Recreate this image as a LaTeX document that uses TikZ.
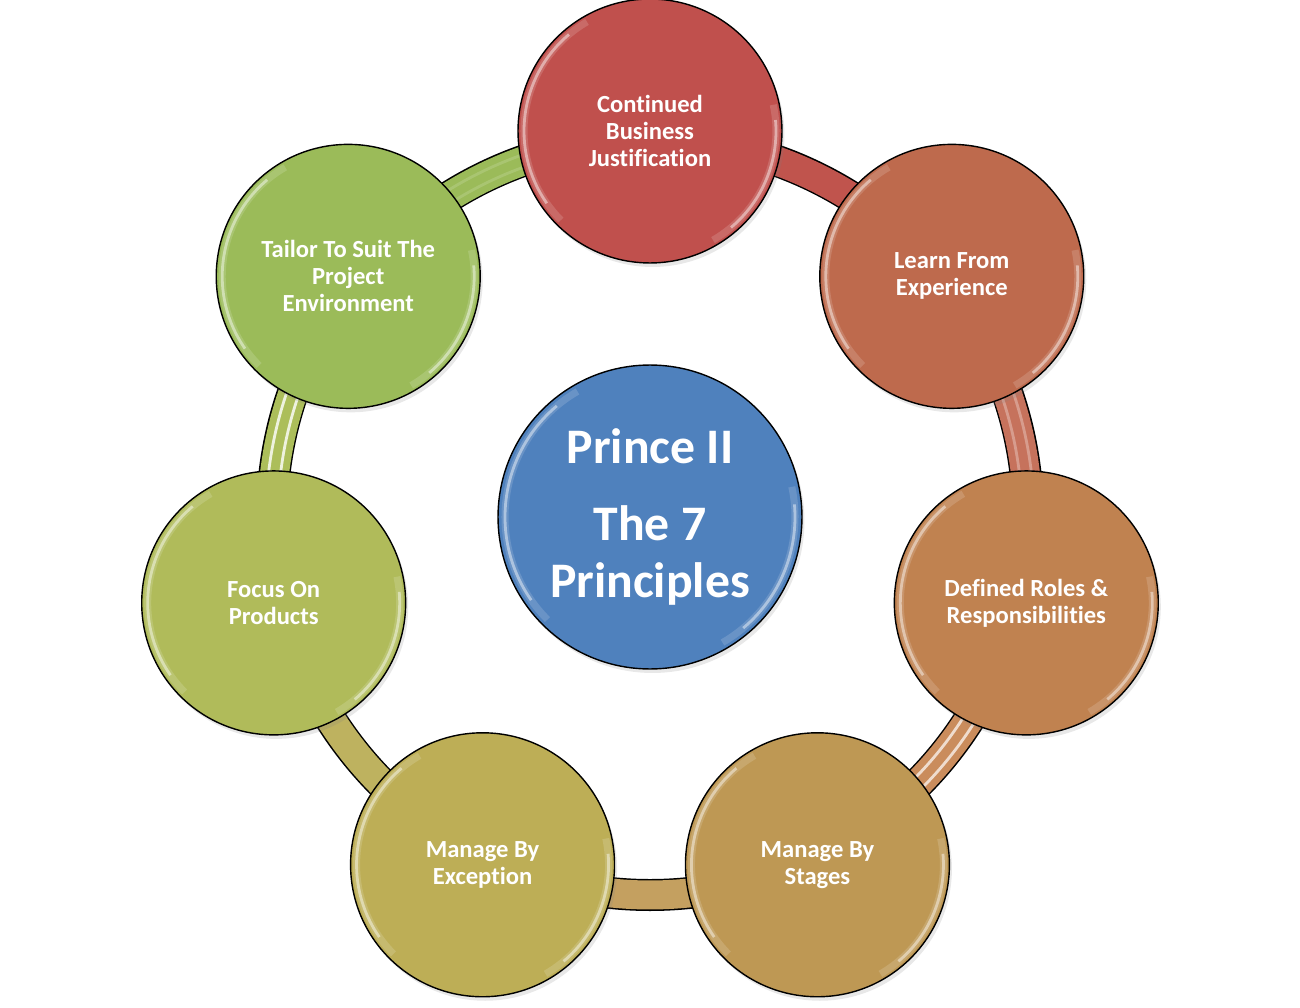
\documentclass[tikz,border=0pt]{standalone}
\usepackage{fontspec}
\setmainfont[Ligatures=NoCommon]{Carlito}
\usetikzlibrary{positioning}
\usetikzlibrary{shadows}
\definecolor{cbjRed}{RGB}{192,80,77}
\definecolor{lfeRed}{RGB}{190,106,77}
\definecolor{drrOrange}{RGB}{192,130,80}
\definecolor{mbsTan}{RGB}{190,152,84}
\definecolor{mbeOlive}{RGB}{189,174,86}
\definecolor{fopLime}{RGB}{176,187,90}
\definecolor{ttpGreen}{RGB}{155,187,89}
\definecolor{princeBlue}{RGB}{79,129,189}
\definecolor{segA}{RGB}{192,84,77}
\definecolor{segB}{RGB}{198,114,92}
\definecolor{segC}{RGB}{202,140,92}
\definecolor{segD}{RGB}{196,160,96}
\definecolor{segE}{RGB}{190,178,95}
\definecolor{segF}{RGB}{172,190,90}
\definecolor{segG}{RGB}{155,187,89}
\tikzset{
        treenode/.style={align=center,inner sep=0pt},
        % Principle nodes
        node_principle/.style={treenode, circle, draw=black, line width=0.8pt, fill=#1, text=white,
            minimum size=5.28cm, font=\fontsize{14}{15.4}\selectfont\bfseries,
            drop shadow={opacity=0.18, shadow xshift=0.5mm, shadow yshift=-0.8mm}},
        % Centre node
        node_centre/.style={treenode, circle, draw=black, line width=0.8pt, fill=princeBlue, text=white,
            minimum size=6.08cm, font=\fontsize{28.3}{32.5}\selectfont\bfseries,
            drop shadow={opacity=0.18, shadow xshift=0.5mm, shadow yshift=-0.8mm}},
        % Ring band
        ring_edge/.style={draw=black, line width=0.64cm},
        ring_fill/.style={line width=0.58cm},
        ring_shine/.style={draw=white, line width=1.6pt},
        % Glossy rim
        rim_shine/.style={draw=white, line width=1.6pt, opacity=0.45},
        rim_glow/.style={draw=white, line width=4pt, opacity=0.15}
}
\begin{document}
\begin{tikzpicture}[x=0.02cm, y=0.02cm]
    \useasboundingbox (-650,-490) rectangle (650,517);
    % ring behind the circles
    \draw[ring_edge] (0,0) circle[radius=378];
    \foreach \from/\to/\col/\op in {90/38.57/segA/0, 38.57/-12.86/segB/0.3, -12.86/-64.29/segC/0.7,
            -64.29/-115.71/segD/0, -115.71/-167.14/segE/0, 192.86/141.43/segF/0.8, 141.43/90/segG/0.15}
    {
        \draw[ring_fill, \col] (\from:378) arc[start angle=\from, end angle=\to, radius=378];
        \draw[ring_shine, opacity=\op] (\from:372) arc[start angle=\from, end angle=\to, radius=372];
        \draw[ring_shine, opacity=\op] (\from:384) arc[start angle=\from, end angle=\to, radius=384];
    }
    % centre
    \node[node_centre] (prince) at (0,0) {Prince II\\[11pt]The 7\\Principles};
    % the seven principles
    \node[node_principle=cbjRed] (cbj) at (90:386) {Continued\\Business\\Justification};
    \node[node_principle=lfeRed] (lfe) at (38.57:386) {Learn From\\Experience};
    \node[node_principle=drrOrange] (drr) at (-12.86:386) {Defined Roles \&\\Responsibilities};
    \node[node_principle=mbsTan] (mbs) at (-64.29:386) {Manage By\\Stages};
    \node[node_principle=mbeOlive] (mbe) at (-115.71:386) {Manage By\\Exception};
    \node[node_principle=fopLime] (fop) at (-167.14:386) {Focus On\\Products};
    \node[node_principle=ttpGreen] (ttp) at (141.43:386) {Tailor To Suit The\\Project\\Environment};
    % glossy rims
    \foreach \n/\r in {cbj/126, lfe/126, drr/126, mbs/126, mbe/126, fop/126, ttp/126, prince/145}
    {
        \draw[rim_glow] ([shift={(120:\r)}]\n.center) arc[start angle=120, end angle=225, radius=\r];
        \draw[rim_shine] ([shift={(130:\r)}]\n.center) arc[start angle=130, end angle=215, radius=\r];
        \draw[rim_glow] ([shift={(-60:\r)}]\n.center) arc[start angle=-60, end angle=12, radius=\r];
        \draw[rim_shine] ([shift={(-50:\r)}]\n.center) arc[start angle=-50, end angle=5, radius=\r];
    }
\end{tikzpicture}
\end{document}
